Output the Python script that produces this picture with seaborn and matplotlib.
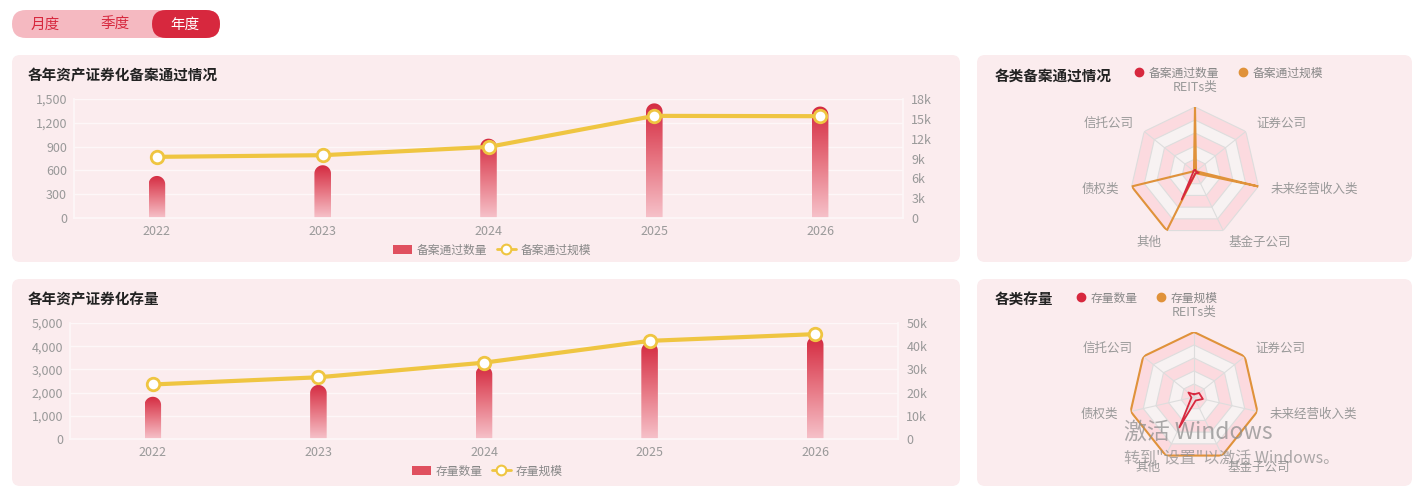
import numpy as np
import matplotlib
matplotlib.use("Agg")
import matplotlib.pyplot as plt
import seaborn as sns
from matplotlib.patches import FancyBboxPatch, PathPatch, Patch
from matplotlib.path import Path
from matplotlib.lines import Line2D
from matplotlib.colors import LinearSegmentedColormap
from matplotlib.ticker import FuncFormatter, MultipleLocator
from matplotlib.transforms import IdentityTransform

# ---------------- data ----------------
years = ["2022", "2023", "2024", "2025", "2026"]
filing_count = [530, 665, 1000, 1445, 1405]
filing_scale = [9250, 9500, 10750, 15450, 15400]
stock_count = [1820, 2330, 3150, 4160, 4420]
stock_scale = [23500, 26600, 32900, 42300, 45200]

radar_labels = ["REITs类", "证券公司", "未来经营收入类", "基金子公司", "其他", "债权类", "信托公司"]
radar1_count = [0.03, 0.02, 0.06, 0.02, 0.47, 0.03, 0.03]
radar1_scale = [1.0, 0.02, 1.0, 0.02, 1.0, 1.0, 0.02]
radar2_count = [0.04, 0.10, 0.14, 0.06, 0.52, 0.04, 0.11]
radar2_scale = [1.0, 1.0, 1.0, 1.0, 1.0, 1.0, 1.0]

toggle_labels = ["月度", "季度", "年度"]

# ---------------- style ----------------
sns.set_theme(style="white")
plt.rcParams["font.family"] = ["Noto Sans CJK SC", "DejaVu Sans"]
plt.rcParams["axes.unicode_minus"] = False

W, H = 1420, 490
fig = plt.figure(figsize=(W / 100, H / 100), dpi=100)
fig.patch.set_facecolor("white")

PANEL = "#fbecee"
RED = "#d7283e"
ORANGE = "#e0923a"
YELLOW = "#efc541"
GRAY = "#999999"


def fx(x):
    return x / W


def fy(y):
    return 1 - y / H


def rbox(x0, y0, x1, y1, r, color, z=-5):
    p = FancyBboxPatch((x0, H - y1), x1 - x0, y1 - y0,
                       boxstyle=f"round,pad=0,rounding_size={r}",
                       transform=IdentityTransform(), facecolor=color,
                       edgecolor="none", zorder=z)
    fig.patches.append(p)


# panels
rbox(12, 55, 960, 262, 8, PANEL)
rbox(977, 55, 1412, 262, 8, PANEL)
rbox(12, 279, 960, 486, 8, PANEL)
rbox(977, 279, 1412, 486, 8, PANEL)

# toggle
rbox(12, 10, 220, 38, 14, "#f5b9c1")
rbox(152, 10, 220, 38, 14, RED, z=-4)
for lab, cx in zip(toggle_labels, [45, 115, 185]):
    fig.text(fx(cx), fy(25), lab, ha="center", va="center", fontsize=10.5,
             color="white" if lab == "年度" else RED)

cmap = LinearSegmentedColormap.from_list("bar", ["#f6c2ca", "#e77683", "#d42a40"])


def kfmt(v, _):
    return "0" if v == 0 else f"{int(v / 1000)}k"


def bar_line_chart(box, counts, scales, ymax_l, step_l, ymax_r, step_r,
                   title, title_xy, leg_labels, leg_xy):
    x0, y0, x1, y1 = box
    ax = fig.add_axes([fx(x0), fy(y1), (x1 - x0) / W, (y1 - y0) / H])
    ax.set_facecolor("none")
    sns.barplot(x=years, y=counts, ax=ax, width=0.1, color=RED)
    ax.set_xlim(-0.5, len(years) - 0.5)
    ax.set_ylim(0, ymax_l)
    ax.yaxis.set_major_locator(MultipleLocator(step_l))
    ax.yaxis.set_major_formatter(FuncFormatter(lambda v, _: f"{int(v):,}"))
    ax.grid(axis="y", color="#fdf7f8", lw=1)
    ax.set_axisbelow(True)
    for s in ["top", "right"]:
        ax.spines[s].set_visible(False)
    for s in ["left", "bottom"]:
        ax.spines[s].set_color("#fdf7f8")
    ax.tick_params(length=0, labelsize=9, labelcolor=GRAY, pad=5)
    ax.set_xlabel("")
    ax.set_ylabel("")

    # pixel scale for rounded caps
    ax_w_px = (x1 - x0)
    ax_h_px = (y1 - y0)
    dx_per_px = len(years) / ax_w_px
    dy_per_px = ymax_l / ax_h_px
    bars = list(ax.patches)
    for p in bars:
        bx, bw, bh = p.get_x(), p.get_width(), p.get_height()
        p.set_visible(False)
        r_px = (bw / dx_per_px) / 2
        ry = r_px * dy_per_px
        t = np.linspace(0, np.pi, 40)
        arc = np.column_stack([bx + bw / 2 + (bw / 2) * np.cos(t),
                               (bh - ry) + ry * np.sin(t)])
        verts = np.vstack([[bx, 0], [bx + bw, 0], arc, [bx, 0]])
        codes = [Path.MOVETO] + [Path.LINETO] * (len(verts) - 2) + [Path.CLOSEPOLY]
        clip = PathPatch(Path(verts, codes), transform=ax.transData,
                         facecolor="none", edgecolor="none")
        ax.add_patch(clip)
        grad = np.linspace(0, 1, 256).reshape(-1, 1)
        im = ax.imshow(grad, extent=[bx, bx + bw, 0, bh], origin="lower",
                       cmap=cmap, aspect="auto", zorder=2)
        im.set_clip_path(clip)
    ax.set_xlim(-0.5, len(years) - 0.5)
    ax.set_ylim(0, ymax_l)

    ax2 = ax.twinx()
    ax2.set_facecolor("none")
    sns.lineplot(x=np.arange(len(years)), y=scales, ax=ax2, color=YELLOW, lw=3,
                 marker="o", markersize=9, markerfacecolor="white",
                 markeredgecolor=YELLOW, markeredgewidth=2)
    ax2.set_ylim(0, ymax_r)
    ax2.yaxis.set_major_locator(MultipleLocator(step_r))
    ax2.yaxis.set_major_formatter(FuncFormatter(kfmt))
    for s in ["top", "left", "bottom"]:
        ax2.spines[s].set_visible(False)
    ax2.spines["right"].set_color("#fdf7f8")
    ax2.tick_params(length=0, labelsize=9, labelcolor=GRAY, pad=6)
    ax2.set_ylabel("")
    ax2.set_xlim(-0.5, len(years) - 0.5)

    fig.text(fx(title_xy[0]), fy(title_xy[1]), title, ha="left", va="center",
             fontsize=10.5, fontweight="bold", color="#222222")

    handles = [Patch(facecolor="#e0505f", edgecolor="none"),
               Line2D([], [], color=YELLOW, lw=2, marker="o", markersize=7,
                      markerfacecolor="white", markeredgecolor=YELLOW, markeredgewidth=1.5)]
    fig.legend(handles, leg_labels, loc="center", bbox_to_anchor=(fx(leg_xy[0]), fy(leg_xy[1])),
               ncol=2, frameon=False, fontsize=8.5, labelcolor="#888888",
               handlelength=1.6, handleheight=0.8, handletextpad=0.4, columnspacing=0.8)


bar_line_chart((74, 99, 903, 218), filing_count, filing_scale, 1500, 300, 18000, 3000,
               "各年资产证券化备案通过情况", (28, 76), ["备案通过数量", "备案通过规模"], (492, 250))
bar_line_chart((70, 323, 898, 439), stock_count, stock_scale, 5000, 1000, 50000, 10000,
               "各年资产证券化存量", (28, 300), ["存量数量", "存量规模"], (487, 471))


def radar(center, counts, scales, title, title_xy, leg_labels, leg_xy):
    cx, cy = center
    R = 65
    ax = fig.add_axes([fx(cx - R), fy(cy + R), 2 * R / W, 2 * R / H], projection="polar")
    ax.set_theta_offset(np.pi / 2)
    ax.set_theta_direction(-1)
    ax.set_ylim(0, 1)
    ax.axis("off")
    n = len(radar_labels)
    th = np.linspace(0, 2 * np.pi, n, endpoint=False)
    thc = np.append(th, th[0])
    for k in range(5, 0, -1):
        r = k / 5
        ax.fill(thc, [r] * (n + 1), facecolor="#fcdadf" if k % 2 else "#f7f2f2",
                edgecolor="#dddddd", lw=0.8, zorder=1)
    for t in th:
        ax.plot([t, t], [0, 1], color="#dddddd", lw=0.8, zorder=1.5)
    sns.lineplot(x=thc, y=np.append(scales, scales[0]), sort=False, estimator=None,
                 ax=ax, color=ORANGE, lw=1.5, zorder=3)
    sns.lineplot(x=thc, y=np.append(counts, counts[0]), sort=False, estimator=None,
                 ax=ax, color=RED, lw=1.3, zorder=4)
    ax.set_ylim(0, 1)
    ax.axis("off")
    for t, lab in zip(th, radar_labels):
        s = np.sin(t)
        ha = "center" if abs(s) < 0.1 else ("left" if s > 0 else "right")
        rr = 1.3 if abs(s) < 0.1 else 1.2
        ax.text(t, rr, lab, ha=ha, va="center", fontsize=9, color=GRAY, clip_on=False)

    fig.text(fx(title_xy[0]), fy(title_xy[1]), title, ha="left", va="center",
             fontsize=10.5, fontweight="bold", color="#222222")
    handles = [Line2D([], [], ls="", marker="o", markersize=6, color=RED),
               Line2D([], [], ls="", marker="o", markersize=6, color=ORANGE)]
    fig.legend(handles, leg_labels, loc="center left", bbox_to_anchor=(fx(leg_xy[0]), fy(leg_xy[1])),
               ncol=2, frameon=False, fontsize=8.5, labelcolor="#888888",
               handlelength=0.8, handletextpad=0.4, columnspacing=1.6)


radar((1195, 172), radar1_count, radar1_scale, "各类备案通过情况", (995, 76),
      ["备案通过数量", "备案通过规模"], (1124, 73))
radar((1194, 397), radar2_count, radar2_scale, "各类存量", (995, 300),
      ["存量数量", "存量规模"], (1066, 298))

# OS activation watermark present in the screenshot
fig.text(fx(1124), fy(432), "激活 Windows", ha="left", va="center", fontsize=16.5,
         color="#8f8f8f", alpha=0.75)
fig.text(fx(1124), fy(459), "转到\"设置\"以激活 Windows。", ha="left", va="center", fontsize=11.5,
         color="#8f8f8f", alpha=0.75)

fig.savefig("out.png", dpi=100, facecolor="white")
